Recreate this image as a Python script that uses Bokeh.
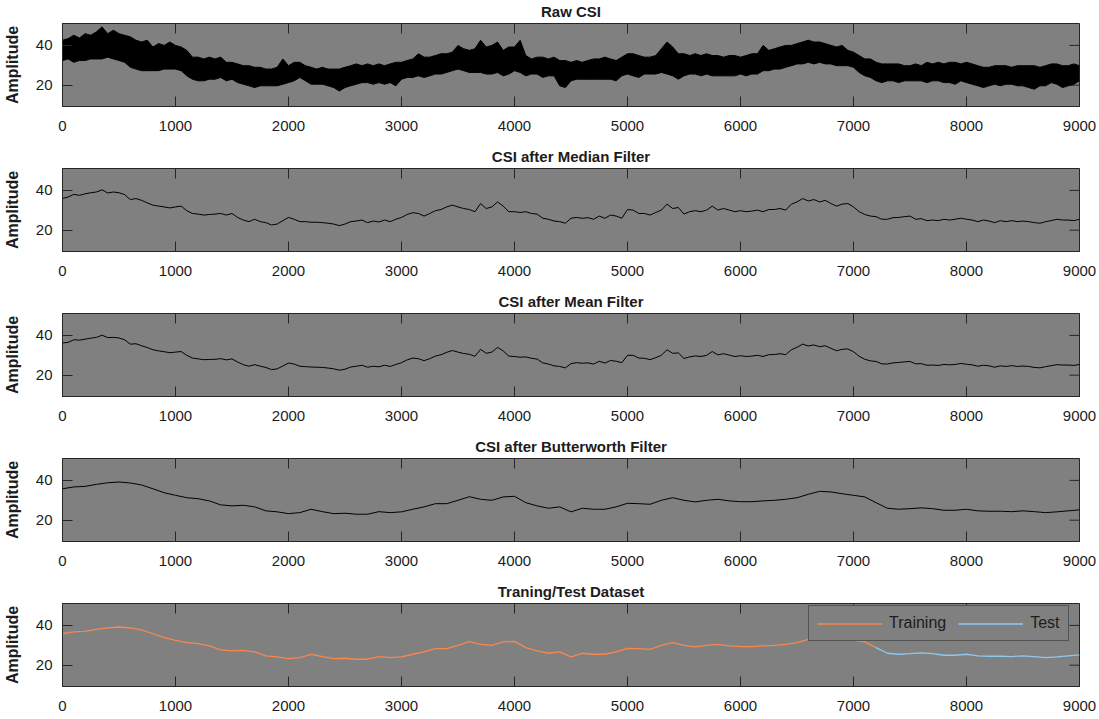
import math
from bokeh.plotting import figure
from bokeh.models import FixedTicker, Range1d, Legend, LegendItem
from bokeh.layouts import column
from bokeh.embed import file_html
from bokeh.resources import INLINE

# ---------------- data ----------------
X_TICKS = [0, 1000, 2000, 3000, 4000, 5000, 6000, 7000, 8000, 9000]
Y_TICKS = [20, 40]
X_LIMITS = (0, 9000)
Y_LIMITS = (9.3, 51)
TITLES = ["Raw CSI", "CSI after Median Filter", "CSI after Mean Filter",
          "CSI after Butterworth Filter", "Traning/Test Dataset"]
Y_LABEL = "Amplitude"

sample_50 = list(range(0, 9001, 50))     # 181 sample positions
sample_100 = list(range(0, 9001, 100))   # 91 sample positions

# raw CSI: upper and lower envelope of the dense noisy trace
raw_upper = [
    42.6, 43.4, 45.1, 43.7, 45.9, 45.1, 46.8, 49.3, 45.9, 47.6,
    45.9, 45.1, 44.3, 42.6, 41.7, 42.6, 39.2, 40.9, 40.0, 41.7,
    40.0, 39.2, 37.5, 34.1, 34.1, 33.2, 34.1, 33.2, 34.1, 31.5,
    31.5, 30.7, 29.8, 29.8, 29.0, 29.0, 28.1, 28.1, 29.0, 33.2,
    29.8, 31.5, 31.5, 29.8, 29.0, 28.1, 29.0, 28.1, 28.1, 28.1,
    29.0, 29.8, 30.7, 29.8, 30.7, 29.8, 30.7, 29.8, 30.7, 31.5,
    31.5, 32.4, 33.2, 35.8, 34.1, 34.1, 34.9, 35.8, 35.8, 36.6,
    40.0, 38.3, 37.5, 38.3, 42.6, 39.2, 40.0, 41.7, 37.5, 39.2,
    39.2, 42.6, 34.9, 33.2, 34.1, 34.1, 33.2, 34.1, 32.4, 32.4,
    31.5, 32.4, 31.5, 32.4, 33.2, 33.2, 34.1, 33.2, 32.4, 34.1,
    35.8, 35.8, 34.9, 34.1, 34.1, 34.9, 38.3, 41.7, 39.2, 35.8,
    35.8, 34.9, 35.8, 34.9, 35.8, 34.9, 34.9, 34.1, 34.9, 34.9,
    34.1, 34.9, 35.8, 35.8, 40.0, 37.5, 38.3, 39.2, 40.0, 40.0,
    40.9, 41.7, 42.6, 41.7, 41.7, 40.9, 40.0, 39.2, 40.0, 37.5,
    36.6, 34.9, 33.2, 33.2, 31.5, 30.7, 30.7, 30.7, 30.7, 29.8,
    29.8, 30.7, 29.8, 31.5, 30.7, 31.5, 30.7, 31.5, 31.5, 30.7,
    31.5, 30.7, 29.8, 29.0, 29.0, 29.8, 29.8, 29.8, 29.0, 29.8,
    29.8, 29.8, 29.8, 29.0, 29.8, 30.7, 30.7, 29.8, 29.8, 30.7,
    29.8,
]
raw_lower = [
    32.4, 33.2, 31.5, 32.4, 32.4, 33.2, 33.2, 33.2, 34.1, 33.2,
    32.4, 31.5, 29.0, 28.1, 27.3, 27.3, 27.3, 27.3, 28.1, 28.1,
    28.1, 27.3, 24.7, 23.0, 22.2, 22.2, 23.0, 23.0, 23.9, 22.2,
    23.0, 21.3, 20.5, 19.7, 18.8, 19.7, 19.7, 19.7, 19.7, 20.5,
    21.3, 22.2, 23.9, 22.2, 20.5, 20.5, 20.5, 19.7, 18.8, 17.1,
    18.8, 19.7, 20.5, 21.3, 21.3, 20.5, 21.3, 20.5, 21.3, 19.7,
    23.0, 23.9, 23.9, 24.7, 23.9, 24.7, 25.6, 25.6, 26.4, 27.3,
    28.1, 27.3, 26.4, 26.4, 26.4, 25.6, 25.6, 26.4, 24.7, 25.6,
    27.3, 26.4, 24.7, 25.6, 25.6, 23.9, 24.7, 24.7, 19.7, 18.8,
    22.2, 23.0, 23.0, 23.0, 23.0, 23.0, 23.0, 23.0, 22.2, 24.7,
    25.6, 24.7, 23.9, 25.6, 25.6, 25.6, 26.4, 25.6, 24.7, 23.0,
    24.7, 25.6, 25.6, 24.7, 25.6, 24.7, 24.7, 24.7, 24.7, 24.7,
    25.6, 24.7, 25.6, 25.6, 27.3, 27.3, 28.1, 28.1, 29.0, 29.8,
    30.7, 30.7, 31.5, 30.7, 31.5, 30.7, 30.7, 29.8, 29.8, 29.8,
    29.0, 26.4, 24.7, 23.9, 22.2, 21.3, 22.2, 22.2, 21.3, 22.2,
    22.2, 22.2, 22.2, 21.3, 22.2, 22.2, 21.3, 21.3, 20.5, 22.2,
    21.3, 20.5, 19.7, 18.8, 19.7, 20.5, 19.7, 20.5, 20.5, 19.7,
    19.7, 18.8, 18.0, 19.7, 19.7, 21.3, 20.5, 18.8, 19.7, 20.5,
    22.2,
]
median_csi = [
    35.9, 36.7, 38.0, 37.5, 38.3, 38.8, 39.2, 40.3, 38.7, 39.2,
    38.8, 37.9, 35.4, 35.9, 35.0, 33.7, 32.6, 32.1, 31.7, 31.2,
    31.7, 32.1, 29.8, 28.4, 28.1, 27.6, 27.9, 28.1, 28.4, 27.6,
    28.4, 26.4, 25.1, 24.3, 25.5, 24.3, 23.8, 22.6, 23.1, 24.8,
    26.4, 25.5, 24.3, 24.3, 24.0, 24.0, 23.8, 23.5, 23.1, 22.3,
    23.1, 24.3, 24.6, 25.1, 23.8, 24.6, 24.1, 25.1, 24.3, 25.5,
    26.4, 27.9, 28.8, 28.4, 27.1, 28.4, 29.8, 30.4, 31.7, 32.6,
    31.7, 30.9, 30.4, 29.3, 33.4, 30.9, 31.7, 34.2, 32.1, 29.3,
    29.3, 28.9, 29.3, 28.4, 28.1, 26.0, 25.5, 24.6, 24.3, 23.5,
    26.0, 26.4, 26.0, 26.3, 25.5, 27.1, 26.0, 27.6, 27.1, 26.0,
    30.4, 30.1, 28.4, 28.4, 27.6, 28.9, 30.1, 33.1, 30.9, 31.4,
    28.1, 29.3, 29.8, 29.3, 30.1, 32.1, 30.1, 30.9, 30.1, 29.3,
    29.8, 29.3, 29.6, 30.1, 29.3, 30.4, 30.4, 30.9, 30.1, 33.1,
    34.2, 35.9, 34.7, 35.4, 34.2, 35.0, 33.4, 32.1, 33.1, 33.4,
    31.7, 29.3, 27.9, 27.1, 26.8, 25.5, 25.5, 26.3, 26.4, 26.8,
    27.1, 25.5, 25.8, 24.8, 25.1, 24.8, 25.5, 25.1, 25.5, 26.0,
    25.5, 25.1, 24.3, 25.1, 24.6, 23.8, 24.8, 24.3, 24.8, 24.3,
    24.6, 24.3, 23.8, 23.5, 24.3, 24.8, 25.5, 25.1, 25.1, 24.8,
    25.5,
]
mean_csi = [
    36.2, 36.5, 37.8, 37.6, 38.1, 38.6, 39.0, 40.1, 38.9, 39.0,
    38.7, 37.8, 35.6, 35.8, 34.8, 33.9, 32.8, 32.2, 31.8, 31.3,
    31.6, 31.9, 30.0, 28.6, 28.2, 27.8, 27.9, 28.0, 28.3, 27.7,
    28.2, 26.6, 25.3, 24.5, 25.3, 24.5, 23.9, 22.8, 23.2, 24.6,
    26.1, 25.6, 24.5, 24.3, 24.1, 24.0, 23.9, 23.6, 23.2, 22.5,
    23.0, 24.1, 24.5, 25.0, 24.0, 24.5, 24.2, 25.0, 24.4, 25.4,
    26.3, 27.7, 28.6, 28.3, 27.3, 28.3, 29.6, 30.3, 31.5, 32.4,
    31.6, 30.9, 30.5, 29.5, 33.0, 31.0, 31.6, 34.0, 32.2, 29.6,
    29.4, 29.0, 29.2, 28.5, 28.1, 26.2, 25.6, 24.7, 24.4, 23.7,
    25.8, 26.3, 26.0, 26.2, 25.6, 27.0, 26.1, 27.4, 27.0, 26.3,
    30.0, 30.0, 28.6, 28.5, 27.8, 28.8, 30.0, 32.8, 31.0, 31.2,
    28.4, 29.2, 29.7, 29.4, 30.0, 31.9, 30.2, 30.8, 30.1, 29.4,
    29.8, 29.4, 29.6, 30.0, 29.4, 30.3, 30.4, 30.8, 30.3, 32.8,
    34.0, 35.6, 34.7, 35.2, 34.3, 34.8, 33.5, 32.3, 33.0, 33.2,
    31.8, 29.5, 28.0, 27.2, 26.9, 25.7, 25.6, 26.2, 26.4, 26.7,
    26.9, 25.7, 25.8, 25.0, 25.1, 24.9, 25.4, 25.2, 25.4, 25.9,
    25.5, 25.2, 24.5, 25.0, 24.7, 24.0, 24.7, 24.4, 24.8, 24.4,
    24.6, 24.4, 23.9, 23.7, 24.3, 24.8, 25.3, 25.1, 25.1, 24.9,
    25.4,
]
butter_csi = [
    35.8, 36.7, 37.0, 38.0, 38.8, 39.2, 38.7, 37.7, 35.8, 33.8,
    32.5, 31.3, 30.8, 29.7, 27.7, 27.2, 27.5, 26.7, 24.7, 24.2,
    23.3, 23.8, 25.5, 24.3, 23.3, 23.5, 23.0, 23.0, 24.3, 23.8,
    24.2, 25.5, 26.7, 28.3, 28.3, 30.0, 31.8, 30.5, 30.0, 31.7,
    32.0, 28.8, 27.2, 26.0, 26.7, 24.2, 26.0, 25.5, 25.5, 26.7,
    28.5, 28.3, 28.0, 30.0, 31.3, 30.0, 29.2, 30.0, 30.5, 29.7,
    29.3, 29.3, 29.7, 30.0, 30.5, 31.3, 33.0, 34.5, 34.2, 33.3,
    32.5, 31.7, 28.8, 26.0, 25.5, 25.8, 26.2, 25.8, 25.0, 25.0,
    25.5, 24.7, 24.5, 24.5, 24.3, 24.7, 24.3, 23.8, 24.2, 24.7,
    25.2,
]
SPLIT_SAMPLE = 7200
train_x = [s for s in sample_100 if s <= SPLIT_SAMPLE]
train_y = butter_csi[:len(train_x)]
test_x = [s for s in sample_100 if s >= SPLIT_SAMPLE]
test_y = butter_csi[len(sample_100) - len(test_x):]

# ---------------- styling ----------------
FONT = "Liberation Sans"
TXT = "#1c1c1c"
EDGE = "#262626"
BG = "#808080"
ORANGE = "#F5874F"
BLUE = "#8DC8EE"
FRAME_W, FRAME_H = 1017, 83


def make_panel(title, last=False):
    p = figure(frame_width=FRAME_W, frame_height=FRAME_H,
               x_range=Range1d(*X_LIMITS), y_range=Range1d(*Y_LIMITS),
               output_backend="svg", toolbar_location=None,
               min_border_left=60, min_border_right=22,
               min_border_top=23, min_border_bottom=(33 if last else 39),
               background_fill_color=BG, border_fill_color="white",
               outline_line_color=EDGE, outline_line_width=1)
    p.title.text = title
    p.title.align = "center"
    p.title.vertical_align = "top"
    p.title.text_font = FONT
    p.title.text_font_size = "15px"
    p.title.text_font_style = "bold"
    p.title.text_color = TXT
    p.title.standoff = 4
    p.xgrid.visible = False
    p.ygrid.visible = False

    xa = p.xaxis[0]
    xa.ticker = FixedTicker(ticks=X_TICKS)
    ya = p.yaxis[0]
    ya.ticker = FixedTicker(ticks=Y_TICKS)
    ya.axis_label = Y_LABEL
    ya.axis_label_text_font = FONT
    ya.axis_label_text_font_size = "16px"
    ya.axis_label_text_font_style = "bold"
    ya.axis_label_text_color = TXT
    ya.axis_label_standoff = 12
    for ax in (xa, ya):
        ax.major_tick_in = 10
        ax.major_tick_out = 0
        ax.minor_tick_in = 0
        ax.minor_tick_out = 0
        ax.major_tick_line_color = EDGE
        ax.axis_line_color = EDGE
        ax.major_label_text_font = FONT
        ax.major_label_text_font_size = "15px"
        ax.major_label_text_color = TXT
    xa.major_label_standoff = 14
    ya.major_label_standoff = 10

    # tick marks on the top and right edges of the box (10 px, inward)
    p.ray(x=X_TICKS, y=[Y_LIMITS[1]] * len(X_TICKS), length=10,
          length_units="screen", angle=-math.pi / 2, line_color=EDGE, line_width=1)
    p.ray(x=[X_LIMITS[1]] * len(Y_TICKS), y=Y_TICKS, length=10,
          length_units="screen", angle=math.pi, line_color=EDGE, line_width=1)
    return p


panels = []

p1 = make_panel(TITLES[0])
p1.varea(x=sample_50, y1=raw_lower, y2=raw_upper, fill_color="black")
p1.line(sample_50, raw_upper, line_color="black", line_width=1)
p1.line(sample_50, raw_lower, line_color="black", line_width=1)
panels.append(p1)

p2 = make_panel(TITLES[1])
p2.line(sample_50, median_csi, line_color="black", line_width=1)
panels.append(p2)

p3 = make_panel(TITLES[2])
p3.line(sample_50, mean_csi, line_color="black", line_width=1)
panels.append(p3)

p4 = make_panel(TITLES[3])
p4.line(sample_100, butter_csi, line_color="black", line_width=1)
panels.append(p4)

p5 = make_panel(TITLES[4], last=True)
r_train = p5.line(train_x, train_y, line_color=ORANGE, line_width=1.3)
r_test = p5.line(test_x, test_y, line_color=BLUE, line_width=1.3)
legend = Legend(items=[LegendItem(label="Training", renderers=[r_train]),
                       LegendItem(label="Test", renderers=[r_test])],
                orientation="horizontal", location=(746, 45),
                background_fill_color=BG, background_fill_alpha=1.0,
                border_line_color=EDGE, border_line_width=1,
                label_text_font=FONT, label_text_font_size="16px",
                label_text_color=TXT, glyph_width=65, glyph_height=17,
                label_height=17, label_standoff=7, spacing=12,
                padding=8, margin=0)
p5.add_layout(legend)
panels.append(p5)

layout = column(*panels, spacing=0)
open("out.html", "w").write(file_html(layout, INLINE))
